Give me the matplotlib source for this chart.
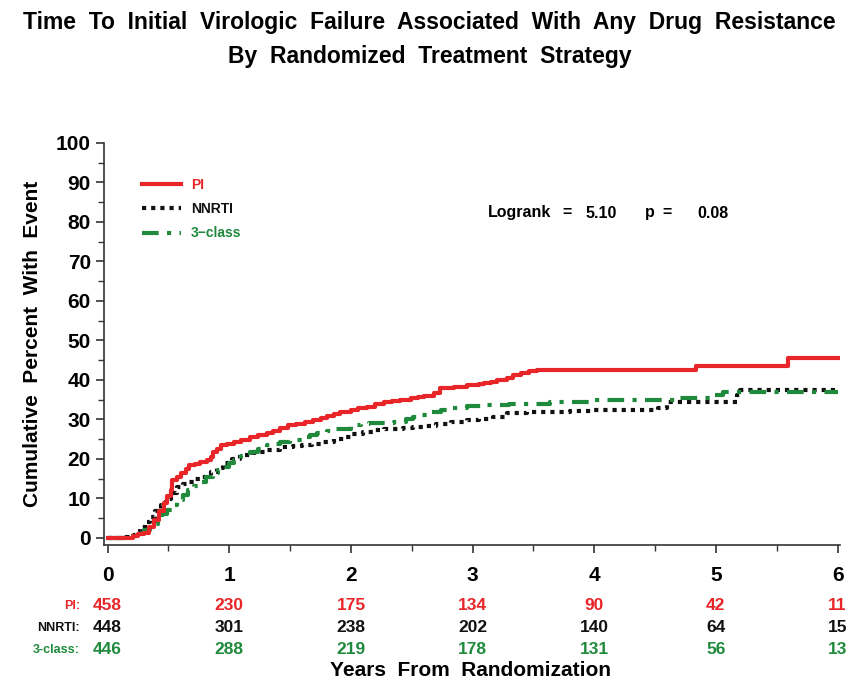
import matplotlib
matplotlib.use("Agg")
import matplotlib.pyplot as plt
import matplotlib.transforms as mtransforms
from matplotlib.ticker import MultipleLocator

plt.rcParams['font.family'] = ['Liberation Sans', 'DejaVu Sans']

RED = '#e8262a'
GREEN = '#1f8a3c'
BLACK = '#111111'

# ---- data ----
pi_t = [0, 0.21, 0.25, 0.30, 0.34, 0.38, 0.42, 0.46, 0.49, 0.52, 0.53, 0.57, 0.60, 0.64, 0.67,
        0.72, 0.76, 0.82, 0.85, 0.87, 0.90, 0.93, 0.98, 1.04, 1.10, 1.17, 1.24, 1.31, 1.36,
        1.42, 1.48, 1.55, 1.62, 1.69, 1.75, 1.8, 1.86, 1.91, 2.0, 2.06, 2.13, 2.2, 2.27,
        2.34, 2.4, 2.49, 2.55, 2.6, 2.68, 2.73, 2.85, 2.95, 3.05, 3.09, 3.15, 3.2, 3.28,
        3.33, 3.4, 3.46, 3.53, 4.84, 5.59, 6.0]
pi_y = [0, 0.5, 0.9, 1.3, 2.8, 4.6, 6.7, 8.9, 10.5, 12.1, 14.7, 15.5, 16.4, 17.5, 18.5,
        18.8, 19.2, 19.7, 20.6, 21.8, 22.6, 23.5, 23.9, 24.3, 24.9, 25.6, 26.0, 26.6, 27.1,
        27.8, 28.6, 28.9, 29.4, 29.9, 30.4, 30.8, 31.4, 31.9, 32.4, 32.8, 33.2, 33.8, 34.4,
        34.7, 35, 35.4, 35.7, 36, 36.7, 38, 38.2, 38.7, 39, 39.2, 39.6, 40, 40.6,
        41.3, 41.8, 42.2, 42.5, 43.5, 45.6, 45.6]

nn_t = [0, 0.15, 0.19, 0.23, 0.27, 0.31, 0.35, 0.39, 0.44, 0.48, 0.52, 0.57, 0.62, 0.66,
        0.71, 0.76, 0.81, 0.85, 0.90, 0.95, 1.02, 1.09, 1.2, 1.3, 1.42, 1.52, 1.6, 1.68,
        1.75, 1.86, 1.94, 2.0, 2.1, 2.18, 2.27, 2.35, 2.43, 2.51, 2.6, 2.7, 2.82, 2.95,
        3.05, 3.17, 3.28, 3.45, 3.6, 3.8, 3.99, 4.52, 4.6, 5.17, 5.2, 6.0]
nn_y = [0, 0.3, 0.7, 1.6, 2.8, 4.0, 5.3, 6.8, 8.4, 9.9, 11.4, 12.9, 13.6, 14.2,
        14.8, 15.4, 16.1, 16.7, 17.8, 19, 20, 21, 21.8, 22.3, 23, 23.3, 23.6, 23.9,
        24.3, 25.1, 25.6, 26.2, 26.7, 27.3, 27.5, 27.7, 27.9, 28.1, 28.4, 28.8, 29.4, 29.9,
        30.2, 30.7, 31.6, 31.8, 32, 32.2, 32.4, 32.9, 34.4, 36.2, 37.5, 37.5]

tc_t = [0, 0.19, 0.25, 0.30, 0.35, 0.41, 0.45, 0.49, 0.53, 0.57, 0.62, 0.66, 0.71, 0.76,
        0.81, 0.87, 0.91, 0.95, 1.0, 1.04, 1.1, 1.17, 1.24, 1.31, 1.36, 1.42, 1.5, 1.6,
        1.66, 1.72, 1.8, 1.85, 2.0, 2.08, 2.15, 2.25, 2.35, 2.45, 2.51, 2.58, 2.65, 2.74,
        2.82, 2.95, 3.09, 3.3, 3.64, 4.0, 4.46, 4.7, 4.95, 5.06, 6.0]
tc_y = [0, 0.5, 1.2, 2, 3.4, 5, 6, 7, 8.3, 9.6, 10.9, 12.1, 13.2, 14.2,
        15.3, 16.4, 17.2, 18, 18.9, 19.7, 20.8, 21.8, 22.6, 23.5, 23.9, 24.3, 24.9, 25.5,
        26.1, 26.6, 27.1, 27.5, 28.6, 28.8, 29, 29.2, 29.4, 30, 30.7, 31.2, 31.8, 32.3,
        32.9, 33.3, 33.7, 34, 34.4, 34.8, 35, 35.4, 36.2, 37, 37]

risk_years = [0, 1, 2, 3, 4, 5, 6]
risk_pi = [458, 230, 175, 134, 90, 42, 11]
risk_nn = [448, 301, 238, 202, 140, 64, 15]
risk_tc = [446, 288, 219, 178, 131, 56, 13]

W, H = 859, 685
fig = plt.figure(figsize=(W / 100, H / 100), dpi=100)
ax = fig.add_axes([104 / W, 1 - 545 / H, (840 - 104) / W, (545 - 143) / H])

ax.plot(pi_t, pi_y, drawstyle='steps-post', color=RED, lw=3, label='PI', zorder=3)
ax.plot(nn_t, nn_y, drawstyle='steps-post', color=BLACK, lw=3, linestyle=(0, (1, 1.2)),
        label='NNRTI', zorder=2)
ax.plot(tc_t, tc_y, drawstyle='steps-post', color=GREEN, lw=3,
        linestyle=(0, (4, 2, 1, 2)), label='3\u2212class', zorder=2)

ax.set_xlim(-0.03, 6.02)
ax.set_ylim(-1.8, 100)
ax.xaxis.set_major_locator(MultipleLocator(1))
ax.xaxis.set_minor_locator(MultipleLocator(0.5))
ax.yaxis.set_major_locator(MultipleLocator(10))
ax.yaxis.set_minor_locator(MultipleLocator(5))
ax.tick_params(axis='both', which='major', direction='out', length=6, width=1.2,
               labelsize=15, colors='#333333', labelcolor='black')
ax.tick_params(axis='both', which='minor', direction='out', length=4, width=1.0, colors='#333333')
ax.tick_params(axis='x', which='major', pad=9)
for lab in ax.get_xticklabels() + ax.get_yticklabels():
    lab.set_fontweight('bold')
for s in ['top', 'right']:
    ax.spines[s].set_visible(False)
for s in ['left', 'bottom']:
    ax.spines[s].set_linewidth(1.2)
    ax.spines[s].set_color('#333333')

ax.set_ylabel('Cumulative  Percent  With  Event', fontsize=15, fontweight='bold', labelpad=10)

leg = ax.legend(loc='upper left', bbox_to_anchor=(0.035, 0.945), frameon=False,
                prop={'size': 10, 'weight': 'bold'}, handlelength=2.8,
                handletextpad=0.7, labelspacing=0.75)
for txt, c in zip(leg.get_texts(), [RED, BLACK, GREEN]):
    txt.set_color(c)

# logrank annotation
ly = 1 - 213 / H
for px, s, ha in [(488, 'Logrank', 'left'), (567, '=', 'center'), (585, '5.10', 'left'),
                  (645, 'p', 'left'), (667, '=', 'center'), (697, '0.08', 'left')]:
    fig.text(px / W, ly, s, fontsize=11.5, fontweight='bold', va='center', ha=ha)

fig.text(0.5, 1 - 22 / H,
         'Time  To  Initial  Virologic  Failure  Associated  With  Any  Drug  Resistance',
         ha='center', va='center', fontsize=16.5, fontweight='bold')
fig.text(0.5, 1 - 57 / H, 'By  Randomized  Treatment  Strategy',
         ha='center', va='center', fontsize=16.5, fontweight='bold')

# at-risk table
trans = mtransforms.blended_transform_factory(ax.transData, fig.transFigure)
rows = [('PI:', risk_pi, RED, 606), ('NNRTI:', risk_nn, BLACK, 628), ('3-class:', risk_tc, GREEN, 650)]
for lab, vals, col, py in rows:
    fig.text(80 / W, 1 - py / H, lab, ha='right', va='center', fontsize=9,
             fontweight='bold', color=col)
    for x, v in zip(risk_years, vals):
        ax.text(x, 1 - py / H, str(v), transform=trans, ha='center', va='center',
                fontsize=12.5, fontweight='bold', color=col)

fig.text(470 / W, 1 - 670 / H, 'Years  From  Randomization', ha='center', va='center',
         fontsize=15, fontweight='bold')

fig.savefig('out.png', dpi=100)
